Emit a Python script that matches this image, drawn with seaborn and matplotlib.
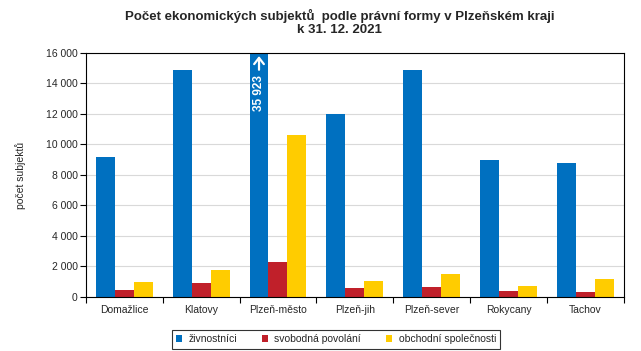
import matplotlib
matplotlib.use('Agg')
import matplotlib.pyplot as plt
import seaborn as sns
import pandas as pd
import numpy as np

okresy = ['Domažlice', 'Klatovy', 'Plzeň-město', 'Plzeň-jih', 'Plzeň-sever', 'Rokycany', 'Tachov']
zivnostnici = [9200, 14900, 35923, 12000, 14900, 8950, 8800]
svobodna = [460, 920, 2300, 590, 660, 390, 330]
spolecnosti = [980, 1770, 10620, 1050, 1510, 720, 1180]
series = ['živnostníci', 'svobodná povolání', 'obchodní společnosti']
colors = ['#0070C0', '#C0202A', '#FFCC00']
ymax = 16000

df = pd.DataFrame({'okres': okresy * 3,
                   'forma': [series[0]] * 7 + [series[1]] * 7 + [series[2]] * 7,
                   'pocet': zivnostnici + svobodna + spolecnosti})
df['kresleno'] = df['pocet'].clip(upper=ymax)

sns.set_theme(style='white')
plt.rcParams['font.family'] = ['Liberation Sans', 'DejaVu Sans']

fig = plt.figure(figsize=(6.41, 3.51), dpi=100)
ax = fig.add_axes([0.134, 0.154, 0.839, 0.695])
sns.barplot(data=df, x='okres', y='kresleno', hue='forma', palette=colors,
            width=0.74, saturation=1, linewidth=0, ax=ax, legend=True)

ax.set_ylim(0, ymax)
ax.set_xlim(-0.5, 6.5)
ax.set_yticks(range(0, 16001, 2000))
ax.set_yticklabels([f'{v:,}'.replace(',', ' ') for v in range(0, 16001, 2000)], fontsize=7.5)
ax.yaxis.grid(True, color='#d9d9d9', linewidth=0.8)
ax.set_axisbelow(True)
ax.set_xlabel('')
ax.set_ylabel('počet subjektů', fontsize=7.5, labelpad=14)
ax.tick_params(axis='x', labelsize=7.5, length=0, pad=6)
ax.tick_params(axis='y', length=4, width=0.8, color='black', direction='out', left=True, pad=2)
ax.set_xticks(np.arange(-0.5, 7, 1), minor=True)
ax.tick_params(axis='x', which='minor', length=4, width=0.8, color='black', direction='out', bottom=True)
for s in ax.spines.values():
    s.set_color('black')
    s.set_linewidth(0.8)

# clipped bar label
i = okresy.index('Plzeň-město')
xbar = i - 0.74 / 3
ax.annotate('', xy=(xbar, ymax - 200), xytext=(xbar, ymax - 1100),
            arrowprops=dict(arrowstyle='->,head_length=0.45,head_width=0.35', color='white',
                            lw=1.6, mutation_scale=10, shrinkA=0, shrinkB=0))
ax.text(xbar, ymax - 1450, f'{zivnostnici[i]:,}'.replace(',', ' '), color='white', ha='center', va='top',
        rotation=90, fontsize=8.5, fontweight='bold')

fig.suptitle('Počet ekonomických subjektů  podle právní formy v Plzeňském kraji\nk 31. 12. 2021',
             fontsize=9.5, fontweight='bold', y=0.975, x=0.53, linespacing=1.1)

leg = ax.legend(loc='upper center', bbox_to_anchor=(0.465, -0.115), ncol=3, fontsize=7.5,
                frameon=True, fancybox=False, edgecolor='black', handlelength=0.6, handleheight=0.6,
                columnspacing=2.4, handletextpad=0.6, borderpad=0.4)
leg.get_frame().set_linewidth(0.8)

fig.savefig('out.png', dpi=100)
